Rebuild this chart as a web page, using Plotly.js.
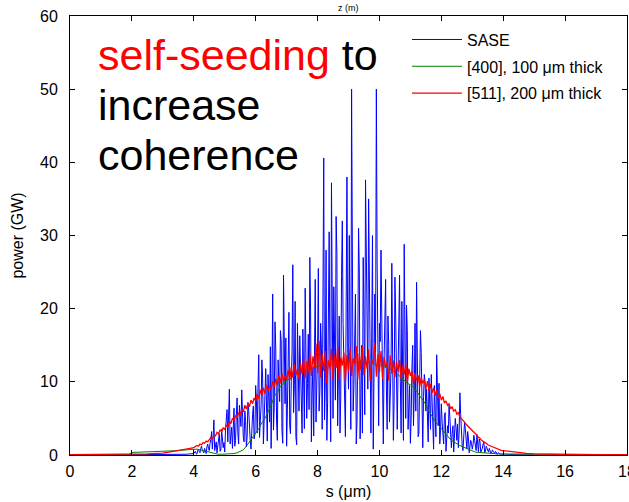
<!DOCTYPE html>
<html>
<head>
<meta charset="utf-8">
<script src="https://cdn.plot.ly/plotly-3.0.1.min.js"></script>
<style>html,body{margin:0;padding:0;background:#fff;}#chart{width:629px;height:502px;}</style>
</head>
<body>
<div id="chart"></div>
<script>
// ---- data (s in µm, power in GW) ----
const seriesNames = ["SASE", "[400], 100 μm thick", "[511], 200 μm thick"];
const xTicks = [0, 2, 4, 6, 8, 10, 12, 14, 16, 18];
const yTicks = [0, 10, 20, 30, 40, 50, 60];

// core sampling grids start at s = 4.0 µm
const coreStart = 4.0;
const saseStep = 0.05;   // sasePower on s = 4.00, 4.05, ...; saseMid on s = 4.025, 4.075, ...
const redStep = 0.05;
const greenStep = 0.1;

// tails outside the core grid
const leftTailS = [0, 1, 1.9, 2, 2.5, 3, 3.25, 3.5, 3.75];
const rightTailS = [14.25, 14.5, 14.75, 15, 15.5, 16, 17, 18];

const saseLeft = [0, 0, 0, 0, 0, 0, 0, 0.05, 0.1];
const saseRight = [0.05, 0, 0, 0, 0, 0, 0, 0];
const redLeft = [0.05, 0.05, 0.08, 0.1, 0.15, 0.25, 0.4, 0.6, 0.8];
const redRight = [0.45, 0.32, 0.22, 0.15, 0.1, 0.07, 0.05, 0.05];
const greenLeft = [0.05, 0.05, 0.05, 0.35, 0.4, 0.45, 0.5, 0.6, 0.7];
const greenRight = [0.12, 0.1, 0.08, 0.06, 0.05, 0.05, 0.05, 0.05];

// SASE, s = 4.00 .. 14.00 step 0.05
const sasePower = [
  0.2,0.5,0.1,0.8,0.3,1.2,0.4,0.9,0.2,1.5,0.6,
  2.1,0.8,4.8,1.2,0.3,2.6,0.5,3.5,1.0,0.4,
  5.2,1.8,9.0,3.1,0.9,6.4,2.0,7.8,1.5,4.2,
  8.9,2.5,6.0,1.1,7.2,3.4,0.8,5.5,2.2,9.5,
  3.0,13.7,5.1,13.0,1.5,8.2,2.8,11.0,4.5,0.9,
  22.0,6.5,14.5,2.0,9.8,17.0,3.2,24.6,7.0,1.2,
  15.8,4.0,10.0,26.0,9.5,2.5,18.0,6.0,11.0,3.0,
  8.0,22.8,5.0,16.5,27.0,1.8,12.0,20.0,4.5,14.0,
  6.0,18.0,3.5,40.6,10.0,2.0,21.0,12.0,37.2,5.0,
  15.0,32.6,4.0,19.0,8.0,32.0,13.0,2.5,38.0,9.0,
  21.0,50.0,6.0,17.0,1.5,14.0,25.0,8.0,3.0,19.0,
  37.6,12.0,35.0,4.0,16.0,0.8,22.0,50.0,7.0,18.0,
  28.0,5.0,13.0,24.0,3.5,15.0,9.0,26.2,2.0,24.3,
  6.0,11.0,24.6,3.0,14.0,28.8,5.0,17.0,8.0,1.6,
  12.0,4.0,18.0,23.6,2.5,9.0,14.0,1.0,11.0,6.0,
  2.0,10.5,3.5,8.0,0.8,6.5,13.7,4.0,1.5,7.0,
  2.5,5.5,0.5,4.0,6.8,1.2,3.0,0.4,5.0,2.0,
  1.0,8.5,2.2,0.6,4.5,1.5,3.2,0.3,2.0,0.8,
  2.7,1.0,2.8,0.4,1.8,0.6,1.5,0.3,1.2,0.5,
  0.9,0.2,0.7,0.3,0.5,0.1,0.3,0.1,0.1,0.0
];

// SASE midpoints, s = 4.025 .. 13.975 step 0.05
const saseMid = [
  0.4,0.2,0.6,0.5,0.9,0.7,0.3,0.5,1.1,0.9,
  1.6,3.2,2.4,0.6,1.8,1.4,2.9,0.7,2.2,1.7,
  3.4,6.2,4.5,1.5,3.8,4.9,1.2,5.6,3.0,6.8,
  3.9,5.0,1.8,4.6,2.6,6.1,1.9,3.8,6.7,2.8,
  7.4,9.2,2.4,6.8,10.5,3.9,11.8,1.9,7.6,14.8,
  9.5,3.4,18.2,4.8,13.0,7.3,15.6,1.6,12.4,16.0,
  6.2,19.5,2.9,14.2,5.8,21.0,1.4,9.2,16.3,7.8,
  17.2,3.6,12.6,9.8,6.2,19.8,8.4,2.6,24.0,9.6,
  25.5,8.8,14.5,22.0,4.8,28.0,7.2,30.5,1.8,17.0,
  23.0,7.5,27.5,11.0,3.0,24.5,18.0,6.5,21.0,14.5,
  30.0,3.5,28.5,9.5,22.0,4.5,31.0,2.2,15.0,27.0,
  5.5,26.0,9.0,20.5,3.0,30.0,8.5,14.0,26.5,4.0,
  15.5,20.0,1.5,21.5,9.0,19.0,4.5,12.0,17.5,7.5,
  19.0,3.5,16.0,10.0,21.0,2.0,13.0,20.5,3.5,9.5,
  5.0,15.0,8.5,6.0,12.5,3.0,17.0,5.5,8.0,10.0,
  9.0,1.8,6.0,11.0,3.0,9.5,2.5,8.0,9.8,3.5,
  4.5,1.5,5.8,2.2,3.0,5.2,1.0,4.0,2.6,3.8,
  4.2,3.0,5.5,1.2,2.6,3.6,0.8,2.4,1.2,1.6,
  1.4,2.0,0.6,1.6,2.2,0.4,0.9,1.8,0.5,0.8,
  0.4,0.6,0.3,0.5,0.2,0.4,0.2,0.2,0.1,0.05
];

// [511], 200 µm thick, s = 4.00 .. 14.00 step 0.05
const redPower = [
  1.0,1.1,1.3,1.2,1.5,1.4,1.7,1.6,1.9,1.8,
  2.1,2.4,2.2,2.7,2.6,3.1,2.9,3.4,3.2,3.7,
  3.5,4.1,3.8,4.6,4.3,5.0,4.7,5.4,5.1,5.8,
  5.5,6.2,5.9,6.8,6.3,7.1,6.6,7.5,7.0,7.8,
  7.4,8.3,7.7,8.9,8.1,9.2,8.4,9.6,8.7,9.4,
  9.0,10.1,9.3,10.4,9.5,10.9,9.8,11.2,10.0,10.8,
  10.3,11.6,10.2,12.0,10.6,12.4,10.9,11.8,10.4,12.6,
  11.0,13.2,10.5,12.8,11.3,14.0,10.8,13.5,12.0,15.2,
  11.2,15.6,10.6,13.8,11.5,14.2,9.8,13.0,11.8,14.5,
  10.4,13.6,11.9,14.8,10.2,13.3,12.2,14.0,10.0,13.7,
  11.4,14.6,10.8,13.2,12.5,14.9,10.3,13.9,11.6,15.0,
  10.9,13.5,11.8,14.4,10.1,13.1,12.4,15.3,10.7,13.8,
  11.3,14.2,10.4,13.4,11.9,12.8,10.2,13.6,11.1,12.9,
  10.6,12.7,11.4,13.0,10.3,12.2,11.0,12.5,9.9,11.8,
  10.8,11.5,9.6,11.2,10.2,10.9,9.3,10.6,9.8,10.3,
  9.0,10.1,8.8,9.7,8.5,9.2,8.1,8.9,7.8,8.4,
  7.5,8.0,7.1,7.4,6.8,7.0,6.3,6.6,6.0,6.2,
  5.6,5.8,5.2,5.0,4.7,4.5,4.2,4.0,3.7,3.5,
  3.3,3.1,2.9,2.7,2.4,2.3,2.0,1.9,1.7,1.6,
  1.4,1.3,1.2,1.1,1.0,0.9,0.8,0.8,0.7,0.6,
  0.6
];

// [400], 100 µm thick, s = 4.0 .. 14.0 step 0.1
const greenPower = [
  0.8,0.8,0.7,0.6,0.5,0.3,0.2,0.1,0.1,0.1,
  0.1,0.1,0.1,0.2,0.3,0.5,0.7,1.2,1.8,2.4,
  3.0,3.6,4.4,5.0,5.9,6.8,8.0,8.6,9.4,9.8,
  10.2,10.4,10.7,11.0,11.3,11.6,11.4,12.0,11.8,12.2,
  12.0,12.4,12.1,12.6,12.3,12.5,12.8,12.4,12.7,12.5,
  12.9,12.6,12.8,12.5,12.9,12.6,12.4,12.8,12.5,12.3,
  12.4,12.0,12.2,11.8,11.6,11.2,11.0,10.6,10.2,9.8,
  9.6,9.3,8.7,8.1,7.5,6.9,6.0,5.2,4.6,4.1,
  3.6,3.1,2.6,2.1,1.8,1.5,1.3,1.1,0.9,0.7,
  0.5,0.4,0.35,0.3,0.25,0.25,0.2,0.2,0.15,0.15,
  0.15
];

function grid(start, step, n) {
  return Array.from({length: n}, (_, i) => +(start + i * step).toFixed(3));
}
function full(core, step, left, right) {
  return {
    x: leftTailS.concat(grid(coreStart, step, core.length), rightTailS),
    y: left.concat(core, right)
  };
}
// merge SASE main samples with midpoint samples (ordered by s)
const saseCore = [];
sasePower.forEach((v, i) => { saseCore.push(v); if (i < saseMid.length) saseCore.push(saseMid[i]); });

const sase = full(saseCore, saseStep / 2, saseLeft, saseRight);
const green = full(greenPower, greenStep, greenLeft, greenRight);
const red = full(redPower, redStep, redLeft, redRight);

const FONT = "Liberation Sans, Arial, sans-serif";

const traces = [
  {x: sase.x, y: sase.y, name: seriesNames[0], legendgroup: "a", type: "scatter", mode: "lines",
   line: {color: "#0000ff", width: 1}},
  {x: green.x, y: green.y, name: seriesNames[1], legendgroup: "b", type: "scatter", mode: "lines",
   line: {color: "#008000", width: 1}},
  {x: red.x, y: red.y, name: seriesNames[2], legendgroup: "c", type: "scatter", mode: "lines",
   line: {color: "#ff0000", width: 1.3}}
];

const axisCommon = {
  showgrid: false, zeroline: false, showline: true, linecolor: "#000", linewidth: 1,
  mirror: "ticks", ticks: "inside", ticklen: 5, tickcolor: "#000", tickwidth: 1,
  tickfont: {family: FONT, size: 16, color: "#000"}
};

const layout = {
  width: 629, height: 502,
  margin: {l: 70, r: 2, t: 16, b: 47},
  paper_bgcolor: "#fff", plot_bgcolor: "#fff",
  font: {family: FONT, color: "#000"},
  showlegend: true,
  legend: {
    x: 0.605, y: 0.985, xanchor: "left", yanchor: "top",
    bgcolor: "rgba(0,0,0,0)", borderwidth: 0,
    font: {family: FONT, size: 16, color: "#000"},
    itemwidth: 50, traceorder: "grouped", tracegroupgap: 3
  },
  xaxis: Object.assign({}, axisCommon, {
    range: [0, 18], tickvals: xTicks, ticktext: xTicks.map(String),
    ticklabelstandoff: 2, ticklabeloverflow: "allow",
    title: {text: "s (μm)", font: {family: FONT, size: 16, color: "#000"}, standoff: 6}
  }),
  yaxis: Object.assign({}, axisCommon, {
    range: [0, 60], tickvals: yTicks, ticktext: yTicks.map(String),
    ticklabelstandoff: 8,
    title: {text: "power (GW)", font: {family: FONT, size: 16, color: "#000"}, standoff: 12}
  }),
  annotations: [
    {xref: "paper", yref: "paper", x: 0.5, y: 1, yanchor: "bottom", xanchor: "center",
     yshift: 1, showarrow: false, text: "z (m)", font: {family: FONT, size: 9, color: "#000"}},
    {xref: "paper", yref: "paper", x: 0.046, y: (455 - 55) / 439, xanchor: "left", yanchor: "middle",
     showarrow: false, text: '<span style="color:#ff0000">self-seeding</span> to',
     font: {family: FONT, size: 43, color: "#000"}},
    {xref: "paper", yref: "paper", x: 0.046, y: (455 - 105) / 439, xanchor: "left", yanchor: "middle",
     showarrow: false, text: "increase", font: {family: FONT, size: 43, color: "#000"}},
    {xref: "paper", yref: "paper", x: 0.046, y: (455 - 155) / 439, xanchor: "left", yanchor: "middle",
     showarrow: false, text: "coherence", font: {family: FONT, size: 43, color: "#000"}}
  ]
};

Plotly.newPlot("chart", traces, layout, {displayModeBar: false, staticPlot: true});
</script>
</body>
</html>
